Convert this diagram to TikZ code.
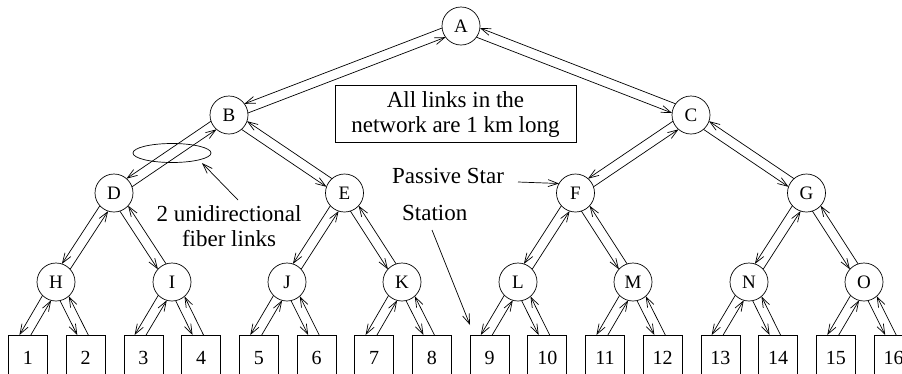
\documentclass[tikz,border=0pt]{standalone}
\usepackage{fontspec}
\setmainfont{Liberation Serif}
\usetikzlibrary{arrows.meta,calc,shapes.geometric}
\tikzset{
  st/.style={circle,draw,line width=0.7pt,minimum size=38pt,inner sep=0pt,outer sep=0pt,font=\fontsize{19}{19}\selectfont},
  lf/.style={draw,line width=0.7pt,minimum width=39pt,minimum height=46pt,anchor=north,inner sep=0pt,outer sep=0pt,font=\fontsize{20}{20}\selectfont},
  arr/.style={-{Straight Barb[length=10pt,width=7pt]},line width=0.7pt},
  lbl/.style={font=\fontsize{23}{25}\selectfont,inner sep=0pt}
}
\newcommand\dlink[2]{%
  \draw[arr] let \p1=($(#2)-(#1)$), \n1={atan2(\y1,\x1)},
    \n2={int(mod(round(\n1-15)+720,360))}, \n3={int(mod(round(\n1+195)+720,360))}
    in (#1.\n2) -- (#2.\n3);
  \draw[arr] let \p1=($(#2)-(#1)$), \n1={atan2(\y1,\x1)},
    \n2={int(mod(round(\n1+165)+720,360))}, \n3={int(mod(round(\n1+15)+720,360))}
    in (#2.\n2) -- (#1.\n3);
}
\newcommand\llink[2]{%
  \draw[arr] let \p1=($(#2.north)+(-3pt,0pt)-(#1)$), \n1={atan2(\y1,\x1)},
    \n2={int(mod(round(\n1-15)+720,360))}
    in (#1.\n2) -- (intersection cs: first line={(#1.\n2)--($(#1.\n2)+(\n1:20pt)$)},
                                  second line={(#2.north west)--(#2.north east)});
  \draw[arr] let \p1=($(#2.north)+(-3pt,0pt)-(#1)$), \n1={atan2(\y1,\x1)},
    \n2={int(mod(round(\n1+15)+720,360))}
    in (intersection cs: first line={(#1.\n2)--($(#1.\n2)+(\n1:20pt)$)},
                         second line={(#2.north west)--(#2.north east)}) -- (#1.\n2);
}
\begin{document}
\begin{tikzpicture}[x=1pt,y=-1pt]
\useasboundingbox (0,0) rectangle (902,373);
\clip (0,0) rectangle (902,373);
% stars
\node[st] (A) at (461,26) {A};
\node[st] (B) at (229,115) {B};
\node[st] (C) at (691,115) {C};
\node[st] (D) at (114,193) {D};
\node[st] (E) at (344.5,193) {E};
\node[st] (F) at (575.5,193) {F};
\node[st] (G) at (806.5,193) {G};
\node[st] (H) at (56,282) {H};
\node[st] (I) at (172,282) {I};
\node[st] (J) at (287,282) {J};
\node[st] (K) at (402,282) {K};
\node[st] (L) at (518,282) {L};
\node[st] (M) at (633,282) {M};
\node[st] (N) at (749,282) {N};
\node[st] (O) at (864,282) {O};
% stations
\foreach \i in {1,...,16}{
  \node[lf] (s\i) at ({28+(\i-1)*57.7},335) {\i};
}
% links
\dlink{A}{B} \dlink{A}{C}
\dlink{B}{D} \dlink{B}{E} \dlink{C}{F} \dlink{C}{G}
\dlink{D}{H} \dlink{D}{I} \dlink{E}{J} \dlink{E}{K}
\dlink{F}{L} \dlink{F}{M} \dlink{G}{N} \dlink{G}{O}
\llink{H}{s1} \llink{H}{s2} \llink{I}{s3} \llink{I}{s4}
\llink{J}{s5} \llink{J}{s6} \llink{K}{s7} \llink{K}{s8}
\llink{L}{s9} \llink{L}{s10} \llink{M}{s11} \llink{M}{s12}
\llink{N}{s13} \llink{N}{s14} \llink{O}{s15} \llink{O}{s16}
% note box
\node[draw,line width=0.7pt,minimum width=241pt,minimum height=57pt,align=center,
      font=\fontsize{23}{25}\selectfont,inner sep=0pt] (note) at (455.5,114)
      {All links in the\\network are 1 km long};
% ellipse annotation
\node[draw,ellipse,line width=0.7pt,minimum width=78pt,minimum height=19pt,inner sep=0pt] (ell) at (172,153) {};
\node[lbl,align=center] (uni) at (229,226) {2 unidirectional\\fiber links};
\coordinate (us) at (238,200);
\coordinate (ut) at (202,163);
\draw[arr] (us) -- (ut);
% passive star
\node[lbl,anchor=west] (ps) at (392,176) {Passive Star};
\coordinate (pss) at (518,182);
\draw[arr] (pss) -- (F.150);
% station
\node[lbl,anchor=west] (stn) at (402,213) {Station};
\coordinate (sts) at (432,230);
\coordinate (stt) at (470,325);
\draw[arr] (sts) -- (stt);
\end{tikzpicture}
\end{document}
